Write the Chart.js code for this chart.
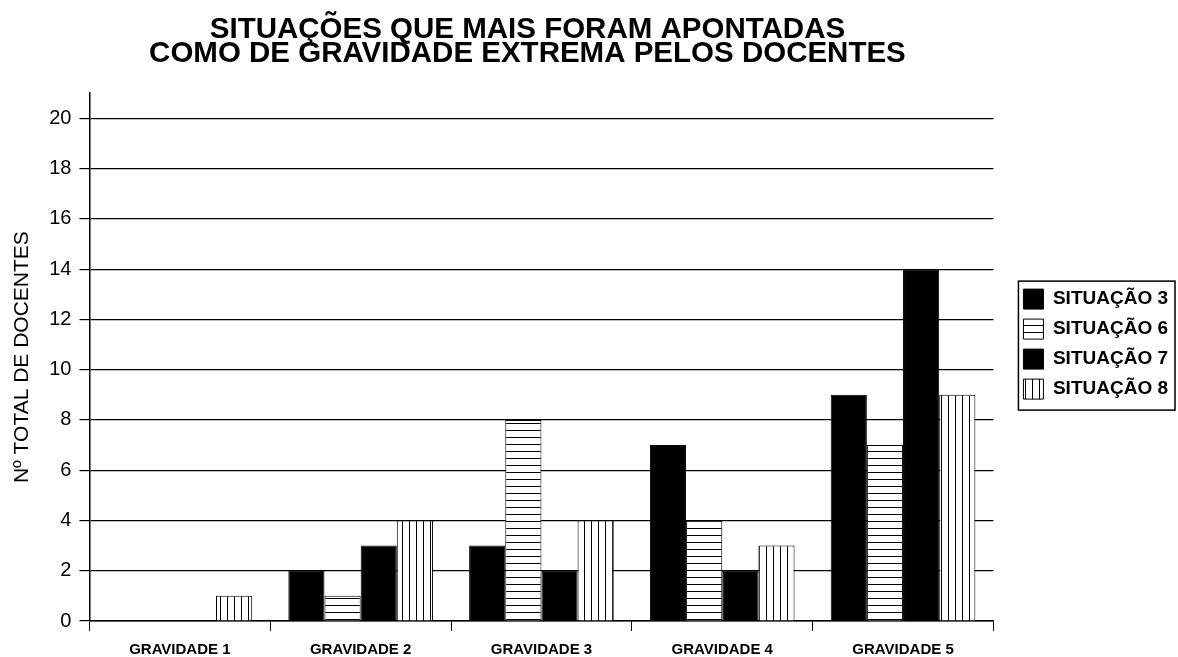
<!DOCTYPE html>
<html>
<head>
<meta charset="utf-8">
<script src="https://cdn.jsdelivr.net/npm/chart.js@4/dist/chart.umd.min.js"></script>
<style>body{margin:0;background:#fff}</style>
</head>
<body>
<canvas id="chart" width="1178" height="657"></canvas>
<script>
const categories = ['GRAVIDADE 1', 'GRAVIDADE 2', 'GRAVIDADE 3', 'GRAVIDADE 4', 'GRAVIDADE 5'];
const seriesNames = ['SITUAÇÃO 3', 'SITUAÇÃO 6', 'SITUAÇÃO 7', 'SITUAÇÃO 8'];
const situacao3 = [0, 2, 3, 7, 9];
const situacao6 = [0, 1, 8, 4, 7];
const situacao7 = [0, 3, 2, 2, 14];
const situacao8 = [1, 4, 4, 3, 9];
const yMax = 21;
const yStep = 2;
const titleLines = ['SITUAÇÕES QUE MAIS FORAM APONTADAS', 'COMO DE GRAVIDADE EXTREMA PELOS DOCENTES'];
const yTitle = 'Nº TOTAL DE DOCENTES';

const canvas = document.getElementById('chart');
const ctx = canvas.getContext('2d');

// striped fills like the old printed chart
function stripes(dir) {
    const c = document.createElement('canvas');
    c.width = 7; c.height = 7;
    const g = c.getContext('2d');
    g.fillStyle = '#fff';
    g.fillRect(0, 0, 7, 7);
    g.fillStyle = '#000';
    if (dir === 'h') g.fillRect(0, 3, 7, 1);
    else g.fillRect(3, 0, 1, 7);
    return ctx.createPattern(c, 'repeat');
}

const fills = ['#000', stripes('h'), '#000', stripes('v')];
const values = [situacao3, situacao6, situacao7, situacao8];

Chart.defaults.font.family = "'Liberation Sans', Arial, sans-serif";
Chart.defaults.color = '#000';

// nudge title/legend a bit and draw the frame round the legend
const tweaks = {
    id: 'tweaks',
    afterLayout(chart) {
        chart.legend.top -= 13;
        chart.legend.bottom -= 13;
        chart.titleBlock.left -= 14;
        chart.titleBlock.right -= 14;
    },
    afterDraw(chart) {
        const hb = chart.legend.legendHitBoxes;
        if (!hb || !hb.length) return;
        const l = Math.min(...hb.map(b => b.left)) - 5;
        const r = Math.max(...hb.map(b => b.left + b.width)) + 7;
        const t = hb[0].top - 8;
        const last = hb[hb.length - 1];
        const b = last.top + last.height + 11;
        const c = chart.ctx;
        c.save();
        c.strokeStyle = '#000';
        c.lineWidth = 1.5;
        c.strokeRect(l, t, r - l, b - t);
        c.restore();
    }
};

new Chart(ctx, {
    type: 'bar',
    data: {
        labels: categories,
        datasets: values.map((v, i) => ({
            label: seriesNames[i],
            data: v,
            backgroundColor: fills[i],
            borderColor: '#000',
            borderWidth: 1,
            categoryPercentage: 0.8,
            barPercentage: 1.0
        }))
    },
    options: {
        responsive: false,
        animation: false,
        layout: { padding: { left: 10, right: 0, top: 0, bottom: -11 } },
        plugins: {
            title: {
                display: true,
                text: titleLines,
                fullSize: false,
                font: { size: 29.5, weight: 'bold', lineHeight: 0.8 },
                padding: { top: 18, bottom: 28 }
            },
            legend: {
                position: 'right',
                fullSize: false,
                labels: {
                    boxWidth: 20,
                    boxHeight: 20,
                    padding: 10,
                    font: { size: 19, weight: 'bold' }
                }
            },
            tooltip: { enabled: false }
        },
        scales: {
            x: {
                grid: { drawOnChartArea: false, color: '#000', tickLength: 10, offset: true },
                border: { color: '#000', width: 1.5 },
                ticks: { font: { size: 15, weight: 'bold', lineHeight: 1 }, padding: 11 }
            },
            y: {
                min: 0,
                max: yMax,
                grid: { color: '#000', lineWidth: 1.2, tickLength: 10 },
                border: { color: '#000', width: 1.5 },
                ticks: { stepSize: yStep, includeBounds: false, font: { size: 20 }, padding: 8 },
                title: { display: true, text: yTitle, font: { size: 21 }, padding: { top: 0, bottom: 6 } }
            },
            spacer: {
                type: 'linear',
                position: 'right',
                display: true,
                grid: { display: false },
                border: { display: false },
                ticks: { display: false },
                afterFit(s) { s.width = 20; }
            }
        }
    },
    plugins: [tweaks]
});
</script>
</body>
</html>
